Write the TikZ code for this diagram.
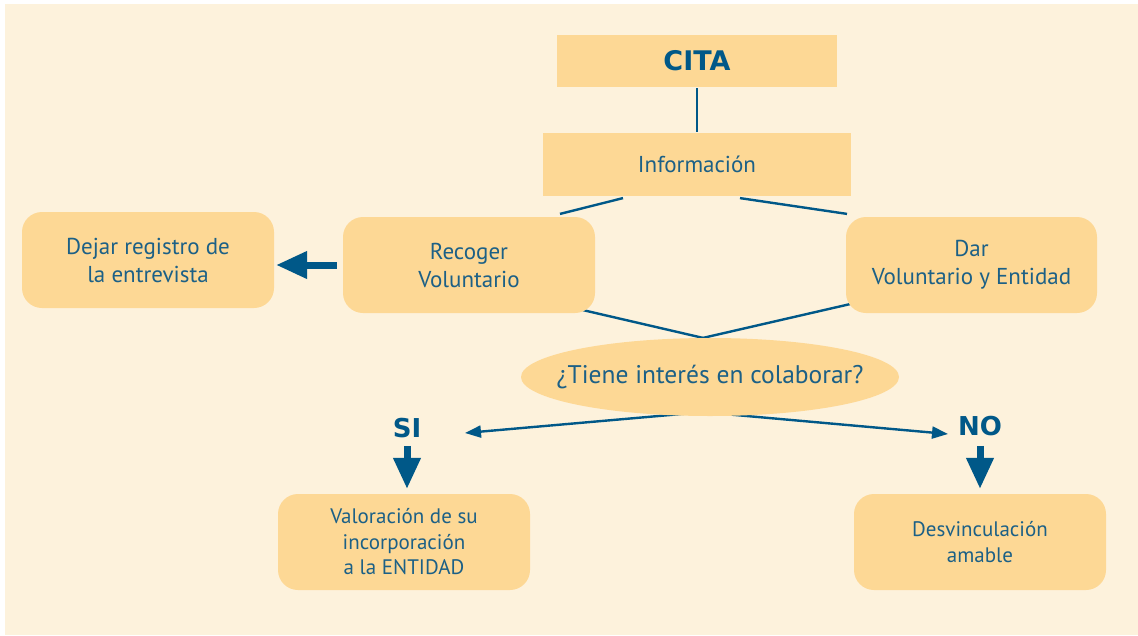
\documentclass[tikz,border=0pt]{standalone}
\usepackage{fontspec}
\setmainfont{PT Sans}
\newfontfamily\headfont{DejaVu Sans}
\usetikzlibrary{shapes.geometric,arrows.meta,calc,backgrounds}
\definecolor{cream}{RGB}{253,242,220}
\definecolor{boxfill}{RGB}{253,216,149}
\definecolor{lineblue}{RGB}{0,88,136}
\definecolor{textblue}{RGB}{28,96,134}
\pgfdeclarelayer{edges}
\pgfsetlayers{background,edges,main}

\begin{document}
\begin{tikzpicture}[x=1pt,y=-1pt,line width = 2.2pt]
\tikzstyle{every node}=[text=textblue,align=center,inner sep=0pt];
\tikzstyle{flat}=[rectangle,fill=boxfill];
\tikzstyle{soft}=[rectangle,fill=boxfill,rounded corners=20pt,minimum width=252pt,minimum height=96pt];
\tikzstyle{ask}=[ellipse,fill=boxfill,inner xsep=-22pt,minimum width=378pt,minimum height=78pt];
\tikzstyle{answer}=[text=lineblue,font=\headfont\bfseries\fontsize{26}{30}\selectfont];
\tikzstyle{conn}=[draw=lineblue,line width=2.4pt];
\tikzstyle{thinarrow}=[draw=lineblue,line width=2.4pt,-{Triangle[width=12pt,length=16pt]}];
\tikzstyle{bigarrow}=[draw=lineblue,line width=7pt,-{Triangle[width=26pt,length=31pt]}];

\useasboundingbox (0,0) rectangle (1138,635);

\draw(697,61) node[flat,minimum width=280pt,minimum height=52pt,
  text=lineblue,font=\headfont\bfseries\fontsize{27}{30}\selectfont] (CITA) {CITA};
\draw(697,164.5) node[flat,minimum width=308pt,minimum height=63pt,
  font=\fontsize{23}{28}\selectfont] (Info) {Información};
\draw(148,260) node[soft,font=\fontsize{23}{28}\selectfont] (Dejar) {Dejar registro de\\la entrevista};
\draw(469,265) node[soft,font=\fontsize{23}{28}\selectfont] (Recoger) {Recoger\\Voluntario};
\draw(971.5,265) node[soft,minimum width=251pt,font=\fontsize{23}{28}\selectfont] (Dar) {Dar\\Voluntario y Entidad};
\draw(710,377) node[ask,font=\fontsize{25.5}{30}\selectfont] (Q) {¿Tiene interés en colaborar?};
\draw(407,428) node[answer] (SI) {SI};
\draw(980,426) node[answer] (NO) {NO};
\draw(404,542) node[soft,font=\fontsize{21}{25.5}\selectfont] (Val) {Valoración de su\\incorporación\\a la ENTIDAD};
\draw(980,542) node[soft,font=\fontsize{21}{26}\selectfont] (Desv) {Desvinculación\\amable};

\begin{pgfonlayer}{background}
\fill[cream] (5,4) rectangle (1138,635);
\end{pgfonlayer}

\begin{pgfonlayer}{edges}
\draw[conn] (CITA) -- (Info);
\draw[conn] ($(Recoger.north)+(91,-2)$) -- ($(Info.south)+(-74,1)$);
\draw[conn] ($(Info.south)+(43,1)$) -- ($(Dar.north)+(-124.5,-2)$);
\draw[conn] ($(Recoger.south)+(114,-4)$) -- ($(Q.north)+(-7,1)$);
\draw[conn] ($(Dar.south)+(-121.5,-10)$) -- ($(Q.north)+(-7,1)$);
\draw[thinarrow] ($(Q.south)+(-7,-5)$) -- ($(SI)+(58,5)$);
\draw[thinarrow] ($(Q.south)+(-7,-5)$) -- ($(NO)+(-32,8)$);
\end{pgfonlayer}

\draw[bigarrow,shorten <=5pt,shorten >=1pt] (Recoger.west) -- (Recoger.west -| Dejar.east);
\draw[bigarrow,shorten <=7pt,shorten >=4pt] (SI) -- (SI |- Val.north);
\draw[bigarrow,shorten <=9pt,shorten >=4pt] (NO) -- (NO |- Desv.north);
\end{tikzpicture}
\end{document}
